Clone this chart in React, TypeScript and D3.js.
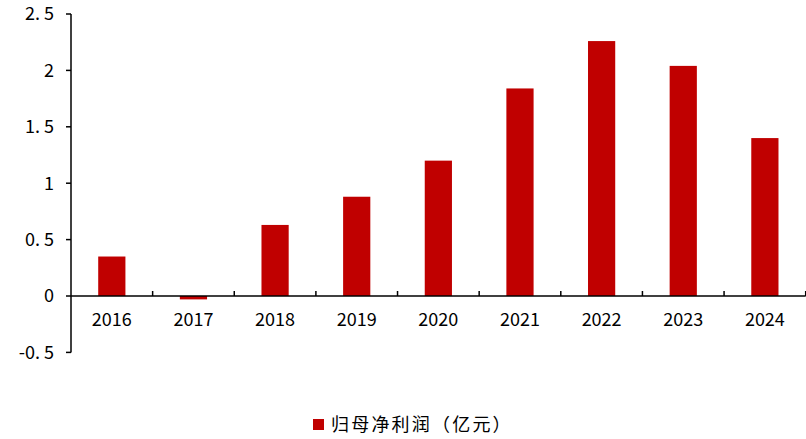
import React from "react";
import * as d3 from "d3";

const categories = ["2016", "2017", "2018", "2019", "2020", "2021", "2022", "2023", "2024"];
const netProfit = [0.35, -0.03, 0.63, 0.88, 1.2, 1.84, 2.26, 2.04, 1.4];
const yTicks = [-0.5, 0, 0.5, 1, 1.5, 2, 2.5];
const yTickLabels = ["-0. 5", "0", "0. 5", "1", "1. 5", "2", "2. 5"];
const seriesName = "归母净利润（亿元）";

const W = 806;
const H = 439;
const left = 71;
const right = 805.7;
const top = 14;
const bottom = 352.4;
const color = "#C00000";
const font = "'Noto Sans CJK SC', 'DejaVu Sans', sans-serif";

export default function App() {
  const x = d3.scaleBand<string>().domain(categories).range([left, right]).paddingInner(0).paddingOuter(0);
  const y = d3.scaleLinear().domain([-0.5, 2.5]).range([bottom, top]);
  const bw = x.bandwidth() / 3;
  const y0 = y(0);
  return (
    <svg width={W} height={H} style={{ position: "absolute", left: 0, top: 0 }}>
      <rect x={0} y={0} width={W} height={H} fill="#fff" />
      {categories.map((c, i) => {
        const v = netProfit[i];
        const cx = (x(c) as number) + x.bandwidth() / 2;
        return (
          <rect key={c} x={cx - bw / 2} y={Math.min(y(v), y0)} width={bw} height={Math.abs(y(v) - y0)} fill={color} />
        );
      })}
      {/* y axis */}
      <line x1={left} x2={left} y1={top} y2={bottom} stroke="#000" strokeWidth={1.5} />
      {yTicks.map((t, i) => (
        <g key={t}>
          <line x1={left - 5} x2={left} y1={y(t)} y2={y(t)} stroke="#000" strokeWidth={1.5} />
          <text x={left - 17} y={y(t)} dy="0.35em" textAnchor="end" fontFamily={font} fontSize={18} fill="#000">
            {yTickLabels[i]}
          </text>
        </g>
      ))}
      {/* x axis */}
      <line x1={left} x2={right} y1={y0} y2={y0} stroke="#000" strokeWidth={1.5} />
      {categories.map((c) => (
        <line key={"t" + c} x1={(x(c) as number) + x.bandwidth()} x2={(x(c) as number) + x.bandwidth()} y1={y0 - 5} y2={y0} stroke="#000" strokeWidth={1.5} />
      ))}
      {categories.map((c) => (
        <text key={"l" + c} x={(x(c) as number) + x.bandwidth() / 2} y={y0 + 24} dy="0.35em" textAnchor="middle" fontFamily={font} fontSize={18} fill="#000">
          {c}
        </text>
      ))}
      {/* legend */}
      <rect x={313} y={419} width={11} height={11} fill={color} />
      <text x={331} y={424.5} dy="0.35em" fontFamily={font} fontSize={18} letterSpacing={2.2} fill="#000">
        {seriesName}
      </text>
    </svg>
  );
}
